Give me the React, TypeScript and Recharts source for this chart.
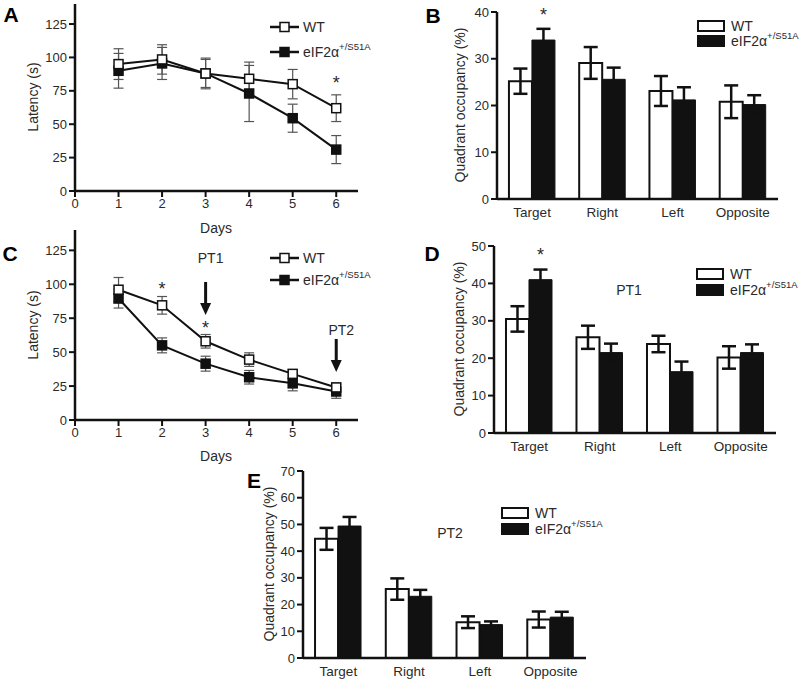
import React from 'react';
import {
  LineChart,
  Line,
  BarChart,
  Bar,
  XAxis,
  YAxis,
  ErrorBar,
  ReferenceDot,
  LabelList,
} from 'recharts';

const FONT = '"Liberation Sans", Arial, Helvetica, sans-serif';
const INK = '#111';
const TXT = '#2a2a2a';

// water maze acquisition, days 1-6
const days = [1, 2, 3, 4, 5, 6];
const dayTicks = [0, 1, 2, 3, 4, 5, 6];
const latencyTicks = [0, 25, 50, 75, 100, 125];

// panel A
const aWt = [95, 98.5, 88, 84, 80, 62];
const aWtErr = [11.5, 11, 11.5, 12.5, 11, 10];
const aKo = [90, 95.5, 88, 73, 54.5, 31];
const aKoErr = [13, 12, 10.5, 21, 10.5, 10.5];

// panel C
const cWt = [96, 84.5, 58, 44.5, 34, 24];
const cWtErr = [9, 6.5, 5, 5, 3, 3.3];
const cKo = [89.5, 55, 41.5, 31.5, 27, 21];
const cKoErr = [7, 5.5, 5.5, 5, 5.5, 5];

// probe trials
const quadrants = ['Target', 'Right', 'Left', 'Opposite'];

// panel B
const bWt = [25.2, 29.1, 23.1, 20.8];
const bWtErr = [2.7, 3.4, 3.2, 3.5];
const bKo = [34, 25.6, 21.2, 20.2];
const bKoErr = [2.4, 2.5, 2.7, 2.0];
const bSig = ['*', '', '', ''];

// panel D (PT1)
const dWt = [30.5, 25.6, 23.8, 20.2];
const dWtErr = [3.4, 3.1, 2.2, 3.0];
const dKo = [41, 21.5, 16.4, 21.5];
const dKoErr = [2.7, 2.4, 2.7, 2.2];
const dSig = ['*', '', '', ''];

// panel E (PT2)
const eWt = [44.6, 25.8, 13.4, 14.4];
const eWtErr = [4.1, 4, 2.2, 3];
const eKo = [49.4, 23.1, 12.5, 15.3];
const eKoErr = [3.4, 2.4, 1.2, 2];
const eSig = ['', '', '', ''];

const toDays = (wt: number[], wtErr: number[], ko: number[], koErr: number[]) =>
  days.map((day, i) => ({ day, wt: wt[i], wtErr: wtErr[i], ko: ko[i], koErr: koErr[i] }));

const toQuads = (wt: number[], wtErr: number[], ko: number[], koErr: number[], sig: string[]) =>
  quadrants.map((q, i) => ({ q, wt: wt[i], wtErr: wtErr[i], ko: ko[i], koErr: koErr[i], sig: sig[i] }));

const axisLine = { stroke: INK, strokeWidth: 2.5 };
const tickLine = { stroke: INK, strokeWidth: 2 };
const numTick = { fill: TXT, fontSize: 13, fontFamily: FONT };
const catTick = { fill: TXT, fontSize: 13.5, fontFamily: FONT };

const square = (fill: string) => (p: any) =>
  p.cx == null ? (
    <g key={p.index} />
  ) : (
    <rect key={p.index} x={p.cx - 4.5} y={p.cy - 4.5} width={9} height={9} fill={fill} stroke={INK} strokeWidth={1.5} />
  );

const Star = (p: any) => (
  <text x={p.cx} y={p.cy + 10} textAnchor="middle" fontSize={18} fill={TXT} fontFamily={FONT}>
    *
  </text>
);

const Arrow = (p: any) => (
  <g>
    <line x1={p.cx} y1={p.cy - 33} x2={p.cx} y2={p.cy - 10} stroke={INK} strokeWidth={3} />
    <polygon points={`${p.cx - 5.5},${p.cy - 12} ${p.cx + 5.5},${p.cy - 12} ${p.cx},${p.cy}`} fill={INK} />
  </g>
);

const tag = (s: string) => (p: any) => (
  <text x={p.cx + 5} y={p.cy + 5} textAnchor="middle" fontSize={14} fill={TXT} fontFamily={FONT}>
    {s}
  </text>
);

type Mark = { x: number; y: number; shape: any };

function LatencyChart({ data, top, plotH, marks }: { data: any[]; top: number; plotH: number; marks: Mark[] }) {
  return (
    <LineChart width={400} height={235} data={data} margin={{ top, right: 42, left: 0, bottom: 235 - top - plotH - 40 }}>
      <XAxis
        type="number"
        dataKey="day"
        domain={[0, 6.5]}
        ticks={dayTicks}
        axisLine={axisLine}
        tickLine={tickLine}
        tickSize={6}
        tick={numTick}
        height={40}
      />
      <YAxis
        type="number"
        domain={[0, 140]}
        ticks={latencyTicks}
        axisLine={axisLine}
        tickLine={tickLine}
        tickSize={6}
        tick={numTick}
        width={75}
      />
      <Line dataKey="ko" stroke={INK} strokeWidth={2} dot={square(INK)} isAnimationActive={false}>
        <ErrorBar dataKey="koErr" direction="y" width={5} stroke="#555" strokeWidth={1.2} />
      </Line>
      <Line dataKey="wt" stroke={INK} strokeWidth={2} dot={square('#fff')} isAnimationActive={false}>
        <ErrorBar dataKey="wtErr" direction="y" width={5} stroke="#555" strokeWidth={1.2} />
      </Line>
      {marks.map((m, i) => (
        <ReferenceDot key={i} x={m.x} y={m.y} r={0} shape={m.shape} />
      ))}
    </LineChart>
  );
}

function OccupancyChart(props: {
  data: any[];
  yMax: number;
  height: number;
  top: number;
  yWidth: number;
  right: number;
  xHeight: number;
}) {
  const { data, yMax, height, top, yWidth, right, xHeight } = props;
  const plotH = 187;
  const ticks: number[] = [];
  for (let v = 0; v <= yMax; v += 10) ticks.push(v);
  return (
    <BarChart
      width={400}
      height={height}
      data={data}
      margin={{ top, right, left: 0, bottom: height - top - plotH - xHeight }}
      barCategoryGap="17%"
      barGap={0}
    >
      <XAxis dataKey="q" axisLine={axisLine} tickLine={false} tickSize={6} tick={catTick} height={xHeight} />
      <YAxis
        type="number"
        domain={[0, yMax]}
        ticks={ticks}
        axisLine={axisLine}
        tickLine={tickLine}
        tickSize={6}
        tick={numTick}
        width={yWidth}
      />
      <Bar dataKey="wt" fill="#fff" stroke={INK} strokeWidth={2} isAnimationActive={false}>
        <ErrorBar dataKey="wtErr" direction="y" width={7} stroke={INK} strokeWidth={2.5} />
      </Bar>
      <Bar dataKey="ko" fill={INK} stroke={INK} strokeWidth={1} isAnimationActive={false}>
        <ErrorBar dataKey="koErr" direction="y" width={7} stroke={INK} strokeWidth={2.5} />
        <LabelList dataKey="sig" position="top" offset={19} fill={TXT} fontSize={18} fontFamily={FONT} />
      </Bar>
    </BarChart>
  );
}

const Txt = ({ x, y, size = 14, rotate = 0, bold = false, children }: any) => (
  <div
    style={{
      position: 'absolute',
      left: x,
      top: y,
      transform: `translate(-50%, -50%) rotate(${rotate}deg)`,
      fontSize: size,
      fontWeight: bold ? 700 : 400,
      whiteSpace: 'nowrap',
      lineHeight: 1,
      color: bold ? '#000' : TXT,
      fontFamily: FONT,
    }}
  >
    {children}
  </div>
);

const Mutant = () => (
  <span>
    eIF2α<sup style={{ fontSize: 9.5, verticalAlign: 'top', position: 'relative', top: -3 }}>+/S51A</sup>
  </span>
);

const LineLegend = ({ x, y1, y2 }: { x: number; y1: number; y2: number }) => (
  <>
    {[
      { cy: y1, fill: '#fff', label: <span>WT</span> },
      { cy: y2, fill: INK, label: <Mutant /> },
    ].map((r, i) => (
      <div key={i} style={{ position: 'absolute', left: x, top: r.cy - 6, height: 12, display: 'flex', alignItems: 'center' }}>
        <svg width={30} height={12}>
          <line x1={0} y1={6} x2={29} y2={6} stroke={INK} strokeWidth={2.5} />
          <rect x={10} y={1.5} width={9} height={9} fill={r.fill} stroke={INK} strokeWidth={1.5} />
        </svg>
        <div style={{ marginLeft: 3, fontSize: 14, fontFamily: FONT, color: TXT, lineHeight: 1 }}>{r.label}</div>
      </div>
    ))}
  </>
);

const BarLegend = ({ x, y1, y2 }: { x: number; y1: number; y2: number }) => (
  <>
    {[
      { cy: y1, fill: '#fff', label: <span>WT</span> },
      { cy: y2, fill: INK, label: <Mutant /> },
    ].map((r, i) => (
      <div key={i} style={{ position: 'absolute', left: x, top: r.cy - 6, height: 12, display: 'flex', alignItems: 'center' }}>
        <svg width={28} height={12}>
          <rect x={1} y={1} width={26} height={10} fill={r.fill} stroke={INK} strokeWidth={2} />
        </svg>
        <div style={{ marginLeft: 6, fontSize: 14, fontFamily: FONT, color: TXT, lineHeight: 1 }}>{r.label}</div>
      </div>
    ))}
  </>
);

export default function App() {
  const marksA: Mark[] = [{ x: 6, y: 84, shape: Star }];
  const marksC: Mark[] = [
    { x: 2, y: 99.5, shape: Star },
    { x: 3, y: 70.7, shape: Star },
    { x: 3, y: 77.4, shape: Arrow },
    { x: 3, y: 119.4, shape: tag('PT1') },
    { x: 6, y: 35.4, shape: Arrow },
    { x: 6, y: 66.3, shape: tag('PT2') },
  ];

  return (
    <div style={{ position: 'absolute', left: 0, top: 0, width: 800, height: 684, background: '#fff', overflow: 'hidden' }}>
      <div style={{ position: 'absolute', left: 0, top: 0 }}>
        <LatencyChart data={toDays(aWt, aWtErr, aKo, aKoErr)} top={4} plotH={187} marks={marksA} />
      </div>
      <div style={{ position: 'absolute', left: 400, top: 0 }}>
        <OccupancyChart data={toQuads(bWt, bWtErr, bKo, bKoErr, bSig)} yMax={40} height={235} top={12} yWidth={97} right={22} xHeight={30} />
      </div>
      <div style={{ position: 'absolute', left: 0, top: 230 }}>
        <LatencyChart data={toDays(cWt, cWtErr, cKo, cKoErr)} top={0} plotH={190} marks={marksC} />
      </div>
      <div style={{ position: 'absolute', left: 400, top: 230 }}>
        <OccupancyChart data={toQuads(dWt, dWtErr, dKo, dKoErr, dSig)} yMax={50} height={235} top={16} yWidth={94} right={24} xHeight={30} />
      </div>
      <div style={{ position: 'absolute', left: 200, top: 460 }}>
        <OccupancyChart data={toQuads(eWt, eWtErr, eKo, eKoErr, eSig)} yMax={70} height={224} top={11} yWidth={103} right={14} xHeight={26} />
      </div>

      {/* panel letters */}
      <Txt x={11} y={14} size={21} bold>A</Txt>
      <Txt x={433} y={15} size={21} bold>B</Txt>
      <Txt x={10} y={253} size={21} bold>C</Txt>
      <Txt x={432} y={253} size={21} bold>D</Txt>
      <Txt x={254} y={480} size={21} bold>E</Txt>

      {/* axis titles */}
      <Txt x={33} y={97} rotate={-90}>Latency (s)</Txt>
      <Txt x={216} y={228}>Days</Txt>
      <Txt x={33} y={325} rotate={-90}>Latency (s)</Txt>
      <Txt x={216} y={456}>Days</Txt>
      <Txt x={460} y={105} rotate={-90}>Quadrant occupancy (%)</Txt>
      <Txt x={459} y={339} rotate={-90}>Quadrant occupancy (%)</Txt>
      <Txt x={269} y={564} rotate={-90}>Quadrant occupancy (%)</Txt>

      {/* probe labels */}
      <Txt x={629} y={290}>PT1</Txt>
      <Txt x={450} y={533}>PT2</Txt>

      {/* legends */}
      <LineLegend x={270} y1={27} y2={52} />
      <LineLegend x={270} y1={258} y2={280} />
      <BarLegend x={697} y1={26} y2={41} />
      <BarLegend x={696} y1={274} y2={290} />
      <BarLegend x={501} y1={513} y2={529} />
    </div>
  );
}
